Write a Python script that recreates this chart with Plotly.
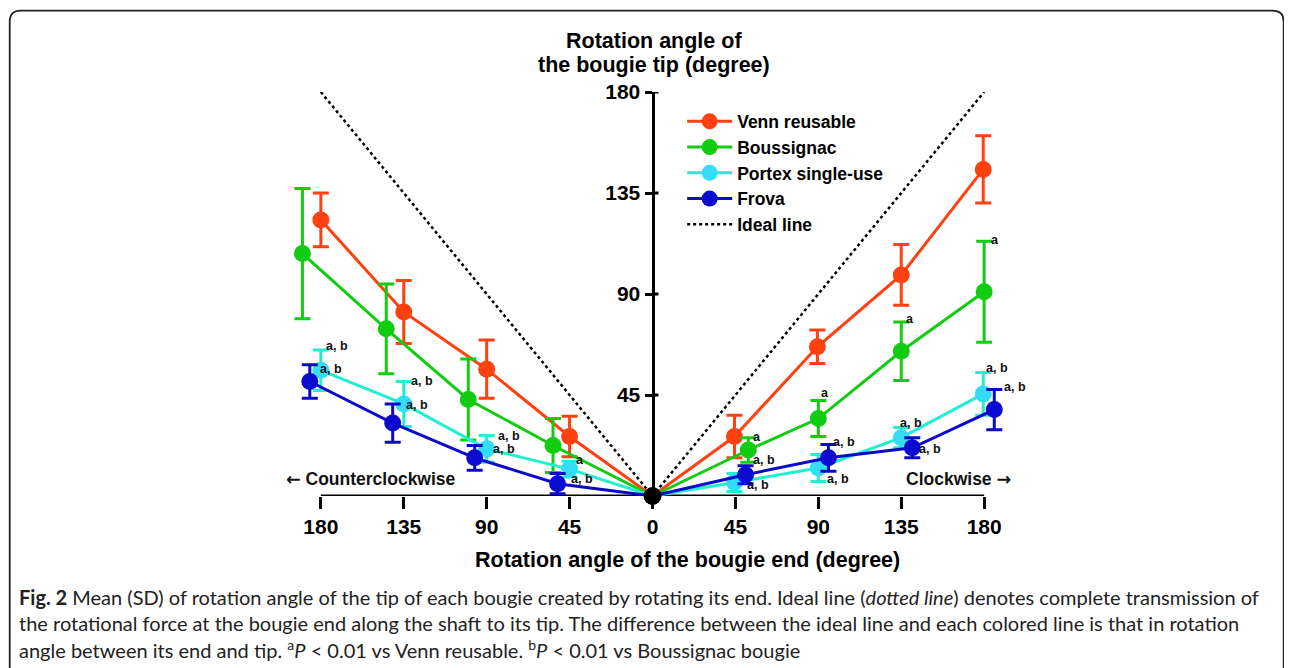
import plotly.graph_objects as go

# ---------------- data ----------------
tick_vals = [-180, -135, -90, -45, 0, 45, 90, 135, 180]
tick_text = ["180", "135", "90", "45", "0", "45", "90", "135", "180"]
y_ticks = [45, 90, 135, 180]

venn_x = [-180, -135, -90, -45, 0, 44.5, 89.5, 135, 179.5]
venn_y = [123, 82, 56.5, 26.5, 0, 26.5, 66.5, 98.5, 145.5]
venn_sd = [12, 14, 13, 9, 0, 9.5, 7.5, 13.5, 15]

bous_x = [-190, -144.5, -100, -54, 0, 52, 90, 135, 180]
bous_y = [108, 74.5, 43, 22.5, 0, 20.5, 34.5, 64.5, 91]
bous_sd = [29, 20, 18, 12, 0, 5.5, 8, 13, 22.5]

portex_x = [-180, -135, -90, -45, 0, 44.5, 90, 135, 179.5]
portex_y = [56, 41, 21, 12, 0, 6, 12.5, 26, 45.5]
portex_sd = [9, 10, 6, 3.5, 0, 4, 6, 4.5, 9.5]

frova_x = [-186, -141, -96.5, -51.5, 0, 50.5, 95.5, 141, 185.5]
frova_y = [51, 32.5, 17, 5.5, 0, 9.5, 17, 21.5, 38.5]
frova_sd = [7.5, 8.5, 5.5, 4.5, 0, 4, 6, 4.5, 9]

ideal_x = [-180, 0, 180]
ideal_y = [180, 0, 180]

# significance labels: (text, x, y) in data units
sig_text = ["a, b", "a, b", "a, b", "a, b", "a, b", "a, b", "a", "a, b",
            "a", "a, b", "a, b", "a", "a, b", "a, b", "a", "a, b", "a, b",
            "a", "a, b", "a, b"]
sig_x = [-171, -174.5, -125, -128, -78, -80.5, -39.5, -38.5,
         56.5, 60.5, 57.5, 93.5, 104, 100.5, 139.5, 140.5, 150.5,
         186, 187, 197]
sig_y = [66.8, 56.8, 51.2, 40.4, 26.7, 20.9, 16, 7.6,
         26.5, 16.1, 5, 45.8, 23.9, 7.6, 78.7, 32.4, 20.9,
         114.2, 57.2, 48.6]

series = [
    ("Venn reusable", venn_x, venn_y, venn_sd, "#FF4010", "#FF4010"),
    ("Boussignac", bous_x, bous_y, bous_sd, "#12CC12", "#12CC12"),
    ("Portex single-use", portex_x, portex_y, portex_sd, "#22EED0", "#33DDF8"),
    ("Frova", frova_x, frova_y, frova_sd, "#0A0AC8", "#0A0AD0"),
]

# ---------------- layout geometry ----------------
# The page has an 8px body margin; pixel constants below are page coordinates.
OFF = 8
W_FIG, H_FIG = 1292 - OFF, 668 - OFF
XR = 200
PW = 737.6
PH = 405.0
L = 283.5 - OFF
T = 91.5 - OFF
R = W_FIG - L - PW
B = H_FIG - T - PH
X_PER_PX = 2 * XR / PW


def pxx(p):
    return (p - OFF - L) / PW


def pxy(p):
    return (T + PH - (p - OFF)) / PH


FONT = "Liberation Sans, Arial, Helvetica, sans-serif"
CAPFONT = "Lato, Open Sans, sans-serif"
ARROW = '<span style="font-family:DejaVu Sans">{}</span>'

fig = go.Figure()

fig.add_trace(go.Scatter(
    x=ideal_x, y=ideal_y, mode="lines", name="Ideal line",
    line=dict(color="black", width=2.5, dash="dot"),
))

for name, xs, ys, sd, lc, mc in series:
    fig.add_trace(go.Scatter(
        x=xs, y=ys, mode="lines+markers", name=name,
        line=dict(color=lc, width=3),
        marker=dict(color=mc, size=17, line=dict(width=0)),
        error_y=dict(type="data", array=sd, visible=True, color=lc,
                     thickness=3, width=8),
        cliponaxis=False,
    ))

fig.add_trace(go.Scatter(
    x=[0], y=[0], mode="markers", showlegend=False,
    marker=dict(color="black", size=18), cliponaxis=False,
))

fig.data[0].legendrank = 1000
for i, tr in enumerate(fig.data[1:5]):
    tr.legendrank = i + 1

annotations = []
for t, x, y in zip(sig_text, sig_x, sig_y):
    annotations.append(dict(
        x=x, y=y, xref="x", yref="y", text=t, showarrow=False,
        font=dict(family=FONT, size=12.5, color="#111", weight="bold"),
        xanchor="center", yanchor="middle",
    ))

annotations += [
    dict(x=pxx(654), y=pxy(40), xref="paper", yref="paper",
         text="Rotation angle of", showarrow=False,
         font=dict(family=FONT, size=21.5, color="black", weight="bold"),
         xanchor="center", yanchor="middle"),
    dict(x=pxx(654), y=pxy(64), xref="paper", yref="paper",
         text="the bougie tip (degree)", showarrow=False,
         font=dict(family=FONT, size=21.5, color="black", weight="bold"),
         xanchor="center", yanchor="middle"),
    dict(x=pxx(687), y=pxy(561), xref="paper", yref="paper",
         text="Rotation angle of the bougie end (degree)", showarrow=False,
         font=dict(family=FONT, size=21.5, color="black", weight="bold"),
         xanchor="center", yanchor="middle"),
    dict(x=pxx(284), y=pxy(479), xref="paper", yref="paper",
         text=ARROW.format("\u2190") + " Counterclockwise", showarrow=False,
         font=dict(family=FONT, size=17.5, color="#111", weight="bold"),
         xanchor="left", yanchor="middle"),
    dict(x=pxx(1013), y=pxy(479), xref="paper", yref="paper",
         text="Clockwise " + ARROW.format("\u2192"), showarrow=False,
         font=dict(family=FONT, size=17.5, color="#111", weight="bold"),
         xanchor="right", yanchor="middle"),
]

cap_lines = [
    "<b>Fig. 2</b> Mean (SD) of rotation angle of the tip of each bougie created by rotating its end. Ideal line (<i>dotted line</i>) denotes complete transmission of",
    "the rotational force at the bougie end along the shaft to its tip. The difference between the ideal line and each colored line is that in rotation",
    "angle between its end and tip. <sup>a</sup><i>P</i> &lt; 0.01 vs Venn reusable. <sup>b</sup><i>P</i> &lt; 0.01 vs Boussignac bougie",
]
for ln, yy in zip(cap_lines, [598, 624, 650]):
    annotations.append(dict(
        x=pxx(16), y=pxy(yy), xref="paper", yref="paper", text=ln,
        showarrow=False, xanchor="left", yanchor="middle", align="left",
        font=dict(family=CAPFONT, size=20, color="#222"),
    ))

# rounded border
bl, br, bt, bb, rad = 9, 1284, 10, 700, 11
path = (f"M {pxx(bl)},{pxy(bb)} L {pxx(bl)},{pxy(bt + rad)} "
        f"Q {pxx(bl)},{pxy(bt)} {pxx(bl + rad)},{pxy(bt)} "
        f"L {pxx(br - rad)},{pxy(bt)} Q {pxx(br)},{pxy(bt)} {pxx(br)},{pxy(bt + rad)} "
        f"L {pxx(br)},{pxy(bb)}")

shapes = [
    dict(type="path", path=path, xref="paper", yref="paper",
         line=dict(color="#222", width=1.8)),
    dict(type="line", x0=-180, x1=180, y0=0, y1=0, xref="x", yref="y",
         line=dict(color="black", width=3), layer="below"),
]
# inner half of the crossing y ticks
for yv in y_ticks:
    shapes.append(dict(type="line", x0=0, x1=6 * X_PER_PX, y0=yv, y1=yv,
                       xref="x", yref="y", line=dict(color="black", width=3)))

fig.update_layout(
    width=W_FIG, height=H_FIG,
    margin=dict(l=L, r=R, t=T, b=B, pad=0),
    paper_bgcolor="white", plot_bgcolor="white",
    showlegend=True,
    legend=dict(
        x=pxx(682), y=pxy(103), xanchor="left", yanchor="top",
        bgcolor="rgba(0,0,0,0)",
        font=dict(family=FONT, size=17.5, color="black", weight="bold"),
        tracegroupgap=0, itemwidth=45,
    ),
    xaxis=dict(
        range=[-XR, XR], tickvals=tick_vals, ticktext=tick_text,
        ticks="outside", ticklen=12, tickwidth=3, tickcolor="black",
        showline=False, showgrid=False, zeroline=False,
        tickfont=dict(family=FONT, size=21, color="black", weight="bold"),
        automargin=False,
    ),
    yaxis=dict(
        range=[0, 180], tickvals=y_ticks,
        anchor="free", position=0.5,
        ticks="outside", ticklen=7, tickwidth=3, tickcolor="black",
        showline=True, linewidth=3, linecolor="black",
        showgrid=False, zeroline=False,
        tickfont=dict(family=FONT, size=21, color="black", weight="bold"),
        automargin=False,
    ),
    annotations=annotations,
    shapes=shapes,
)

fig.write_html("out.html")
